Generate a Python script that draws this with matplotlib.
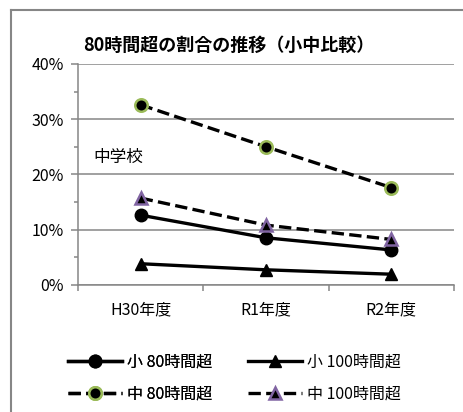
import numpy as np
import matplotlib
matplotlib.use("Agg")
import matplotlib.pyplot as plt
from matplotlib.lines import Line2D
from matplotlib.ticker import FuncFormatter, MultipleLocator, FixedLocator

plt.rcParams['font.family'] = ['Noto Sans CJK JP', 'DejaVu Sans']

# データ
years = ["H30年度", "R1年度", "R2年度"]
sho_80 = [0.126, 0.085, 0.063]
sho_100 = [0.038, 0.027, 0.019]
chu_80 = [0.326, 0.250, 0.176]
chu_100 = [0.157, 0.108, 0.082]

gray = "#868686"
fs = 11.5

fig = plt.figure(figsize=(4.63, 4.12), dpi=100)
ax = fig.add_axes([78 / 463, 1 - 284.7 / 412, 376 / 463, 220.7 / 412])

x = np.arange(len(years))
lw = 2.4
l1, = ax.plot(x, sho_80, color="black", lw=lw, marker="o", ms=9,
              mfc="black", mec="black", label="小 80時間超", zorder=3)
l2, = ax.plot(x, sho_100, color="black", lw=lw, marker="^", ms=9,
              mfc="black", mec="black", label="小 100時間超", zorder=3)
l3, = ax.plot(x, chu_80, color="black", lw=lw, ls="--", marker="o", ms=9,
              mfc="black", mec="#9BBB59", mew=1.8, label="中 80時間超", zorder=3)
l4, = ax.plot(x, chu_100, color="black", lw=lw, ls="--", marker="^", ms=9,
              mfc="black", mec="#8064A2", mew=1.8, label="中 100時間超", zorder=3)

ax.set_xlim(-0.5, 2.5)
ax.set_ylim(0, 0.4)

ax.yaxis.set_major_locator(MultipleLocator(0.1))
ax.yaxis.set_minor_locator(MultipleLocator(0.05))
ax.yaxis.set_major_formatter(FuncFormatter(lambda v, p: f"{v * 100:.0f}%"))
ax.grid(axis="y", color=gray, lw=1.1)
ax.set_axisbelow(True)

ax.set_xticks(x)
ax.set_xticklabels(years)
ax.xaxis.set_minor_locator(FixedLocator([-0.5, 0.5, 1.5, 2.5]))
ax.tick_params(axis="x", which="major", length=0, labelsize=fs, pad=12)
ax.tick_params(axis="x", which="minor", length=4, color=gray, width=1.1)
ax.tick_params(axis="y", which="major", length=5, color=gray, width=1.1,
               labelsize=fs, pad=5)
ax.tick_params(axis="y", which="minor", length=3, color=gray, width=1.1)

for s in ["top", "right"]:
    ax.spines[s].set_visible(False)
for s in ["left", "bottom"]:
    ax.spines[s].set_color(gray)
    ax.spines[s].set_linewidth(1.1)

ax.text(0.04, 0.578, "中学校", transform=ax.transAxes, ha="left", va="center",
        fontsize=12)

fig.text(83 / 463, 1 - 45 / 412, "80時間超の割合の推移（小中比較）", ha="left",
         va="center", fontsize=13, fontweight="bold")

# 外枠
fig.add_artist(Line2D([11 / 463, 1.0], [1 - 10 / 412, 1 - 10 / 412],
                      transform=fig.transFigure, color=gray, lw=1.5))
fig.add_artist(Line2D([11 / 463, 11 / 463], [0.0, 1 - 10 / 412],
                      transform=fig.transFigure, color=gray, lw=1.5))

# 凡例（2列、列ごとに配置）
leg_kw = dict(loc="center left", frameon=False, fontsize=fs, handlelength=3.4,
              handletextpad=0.3, labelspacing=0.95, numpoints=1,
              borderaxespad=0, borderpad=0)
leg1 = fig.legend([l1, l3], ["小 80時間超", "中 80時間超"],
                  bbox_to_anchor=(68 / 463, 1 - 378 / 412), **leg_kw)
fig.add_artist(leg1)
fig.legend([l2, l4], ["小 100時間超", "中 100時間超"],
           bbox_to_anchor=(248 / 463, 1 - 378 / 412), **leg_kw)

fig.savefig("out.png", dpi=100)
